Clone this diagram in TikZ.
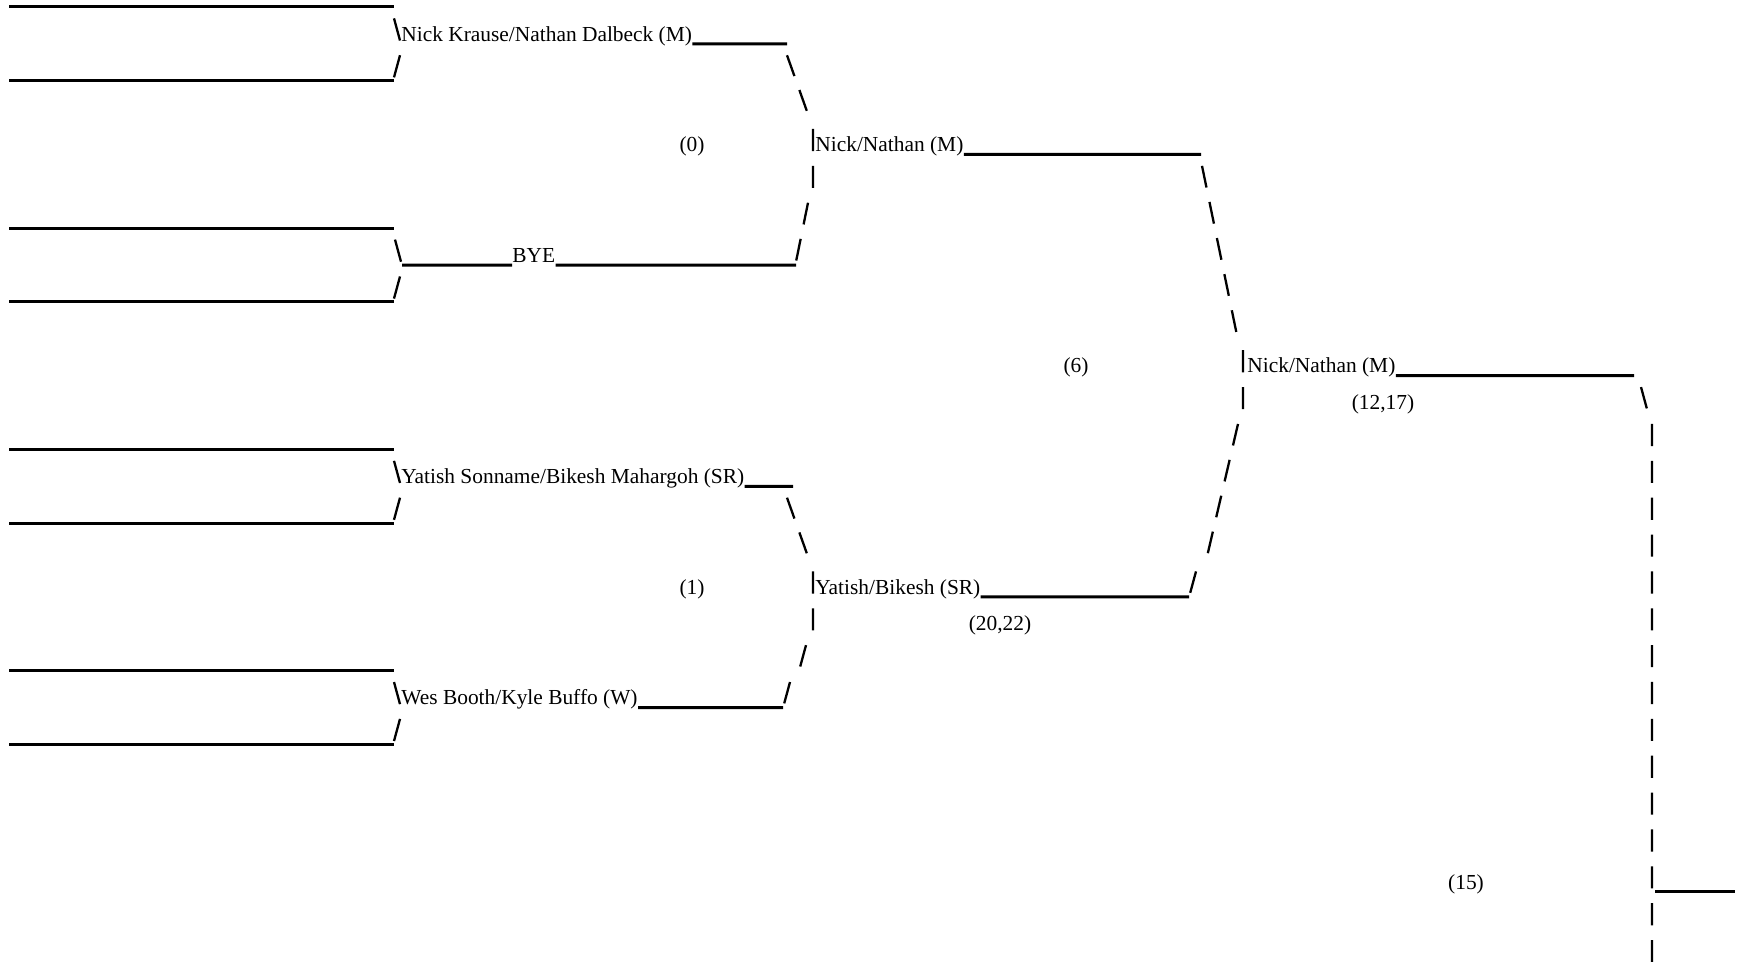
\documentclass[tikz,border=0pt]{standalone}
\usepackage{fontspec}
\setmainfont{Liberation Serif}

\begin{document}
\begin{tikzpicture}[
  x=0.5pt, y=-18.435pt,
  font=\fontsize{10.7}{12}\selectfont,
  team/.style={anchor=base west, inner sep=0pt, yshift=-3.6pt},
  score/.style={anchor=base, inner sep=0pt, yshift=-3.6pt},
  slot/.style={line width=1.5pt},
  tick/.style={line width=1.15pt},
  link/.style={tick, dash pattern=on 11.06pt off 7.37pt}
]
  % page frame: x in pixels, y in text rows
  \useasboundingbox (0,0.0814) rectangle (1739,26.172);

  % ===========================================================
  % FIRST ROUND -- empty entry lines
  % ===========================================================
  \draw[slot] (9, 0.271) -- (394, 0.271);
  \draw[slot] (9, 2.271) -- (394, 2.271);
  \draw[slot] (9, 6.271) -- (394, 6.271);
  \draw[slot] (9, 8.271) -- (394, 8.271);
  \draw[slot] (9,12.271) -- (394,12.271);
  \draw[slot] (9,14.271) -- (394,14.271);
  \draw[slot] (9,18.271) -- (394,18.271);
  \draw[slot] (9,20.271) -- (394,20.271);

  % the \ and / that close each pair
  \draw[tick] (394, 0.58) -- (400, 1.18)  (394, 2.18) -- (400, 1.58);
  \draw[tick] (395, 6.58) -- (401, 7.18)  (394, 8.18) -- (400, 7.58);
  \draw[tick] (394,12.58) -- (400,13.18)  (394,14.18) -- (400,13.58);
  \draw[tick] (394,18.58) -- (400,19.18)  (394,20.18) -- (400,19.58);

  % ===========================================================
  % SECOND ROUND
  % ===========================================================
  \node[team] (nk)  at (401, 1) {Nick Krause/Nathan Dalbeck (M)};
  \node[team] (bye) at (512, 7) {BYE};
  \node[team] (ys)  at (401,13) {Yatish Sonname/Bikesh Mahargoh (SR)};
  \node[team] (wb)  at (401,19) {Wes Booth/Kyle Buffo (W)};

  \coordinate (nk-end)  at (787, 1.271);
  \coordinate (bye-beg) at (402, 7.271);
  \coordinate (bye-end) at (796, 7.271);
  \coordinate (ys-end)  at (793,13.271);
  \coordinate (wb-end)  at (783,19.271);

  \draw[slot] ([yshift=-1.4pt]nk.base east) -- (nk-end);
  \draw[slot] (bye-beg) -- ([yshift=-1.4pt]bye.base west);
  \draw[slot] ([yshift=-1.4pt]bye.base east) -- (bye-end);
  \draw[slot] ([yshift=-1.4pt]ys.base east) -- (ys-end);
  \draw[slot] ([yshift=-1.4pt]wb.base east) -- (wb-end);

  % match scores
  \node[score] (g0) at (692, 4) {(0)};
  \node[score] (g1) at (692,16) {(1)};

  % broken \ | / runs into the winners
  \draw[link] (787, 1.58) -- (808, 3.18)  (813, 3.58) -- (813, 5.18)
              (808, 5.58) -- (796, 7.18);
  \draw[link] (787,13.58) -- (808,15.18)  (813,15.58) -- (813,17.18)
              (806,17.58) -- (800,18.18)  (790,18.58) -- (784,19.18);

  % ===========================================================
  % THIRD ROUND
  % ===========================================================
  \node[team] (nn) at (815, 4) {Nick/Nathan (M)};
  \node[team] (yb) at (815,16) {Yatish/Bikesh (SR)};

  \coordinate (nn-end) at (1201, 4.271);
  \coordinate (yb-end) at (1189,16.271);

  \draw[slot] ([yshift=-1.4pt]nn.base east) -- (nn-end);
  \draw[slot] ([yshift=-1.4pt]yb.base east) -- (yb-end);

  \node[score] (g6)  at (1076,10) {(6)};
  \node[score] (gyb) at (1000,17) {(20,22)};

  \draw[link] (1202, 4.58) -- (1237, 9.18)  (1243, 9.58) -- (1243,11.18)
              (1238,11.58) -- (1207,15.18)  (1196,15.58) -- (1190,16.18);

  % ===========================================================
  % FOURTH ROUND
  % ===========================================================
  \node[team] (nn2) at (1247,10) {Nick/Nathan (M)};
  \coordinate (nn2-end) at (1634,10.271);
  \draw[slot] ([yshift=-1.4pt]nn2.base east) -- (nn2-end);

  \node[score] (gnn) at (1383,11) {(12,17)};
  \node[score] (g15) at (1466,24) {(15)};

  % long run down to the next slot
  \coordinate (fin-beg) at (1655,24.271);
  \coordinate (fin-end) at (1735,24.271);
  \draw[link] (1641,10.58) -- (1647,11.18)  (1652,11.58) -- (1652,26.18);
  \draw[slot] (fin-beg) -- (fin-end);

\end{tikzpicture}
\end{document}
